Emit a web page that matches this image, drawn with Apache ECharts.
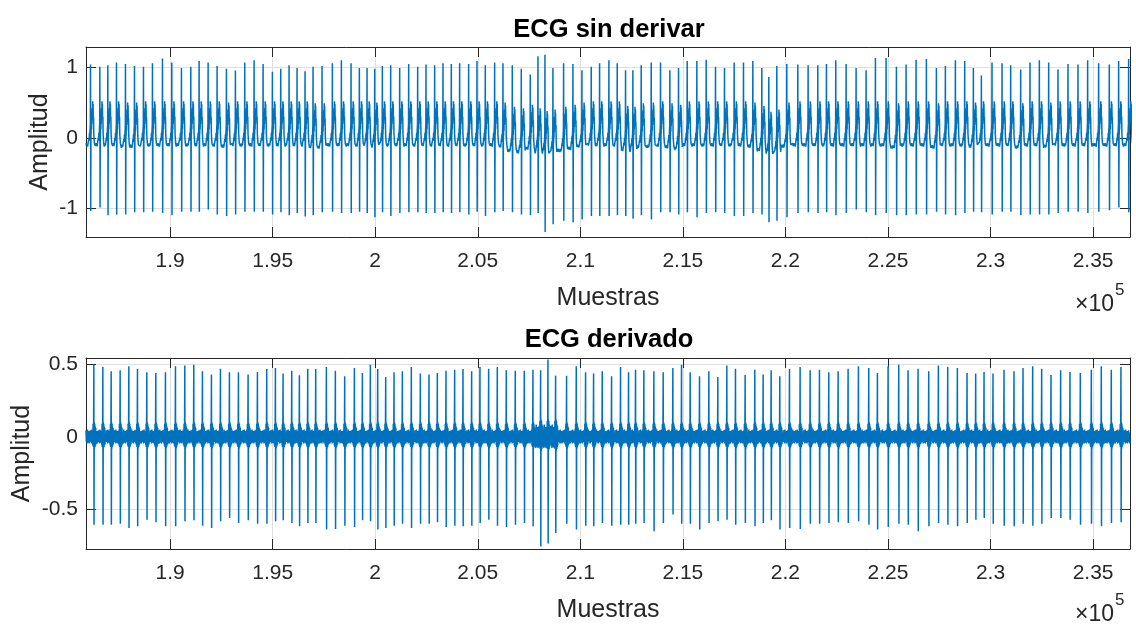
<!DOCTYPE html>
<html>
<head>
<meta charset="utf-8">
<title>ECG sin derivar / ECG derivado</title>
<script src="https://cdn.jsdelivr.net/npm/echarts@6/dist/echarts.min.js"></script>
<style>
  html, body { margin: 0; padding: 0; background: #fff; }
  #main { width: 1136px; height: 624px; }
</style>
</head>
<body>
<div id="main"></div>
<script>
// rango de muestras visible y marcas de los ejes
const xMin = 185900;
const xMax = 236800;
const xTicks = [190000, 195000, 200000, 205000, 210000, 215000, 220000, 225000, 230000, 235000];
const topYTicks = [-1, 0, 1];
const derYTicks = [-0.5, 0, 0.5];

// ECG sin derivar: posicion de cada latido (muestra), pico R, valle S y linea base
const topPos = [
  186120, 186575, 186964, 187387, 187825, 188264, 188702, 189141, 189628, 190083,
  190554, 191009, 191415, 191854, 192292, 192747, 193185, 193640, 194095, 194534,
  194988, 195395, 195801, 196190, 196580, 196970, 197409, 197912, 198351,
  198822, 199228, 199602, 199976, 200349, 200755, 201194, 201632, 202071, 202477,
  202899, 203305, 203711, 204117, 204556, 204962, 205368, 205823, 206229, 206684,
  207122, 207561, 207935, 208276, 208666, 209185, 209640, 210079, 210533, 210940, 211394,
  211800, 212206, 212563, 212969, 213457, 213911, 214366, 214789, 215211, 215682,
  216137, 216592, 217030, 217501, 217956, 218411, 218849, 219190, 219580, 220068,
  220604, 221107, 221578, 222000, 222455, 222959, 223446, 223933,
  224388, 224908, 225412, 225883, 226370, 226873, 227361, 227799, 228287, 228741,
  229164, 229554, 230073, 230561, 230983, 231470, 231925, 232380, 232835, 233289,
  233777, 234264, 234735, 235271, 235791, 236246, 236733
];
const topR = [
  1.04, 1.01, 1.03, 1.07, 1.05, 1.02, 1.01, 1.06, 1.125, 1.07, 0.99, 1.01, 1.09, 1.07, 1.02,
  0.98, 0.955, 1.07, 1.10, 1.05, 0.94, 0.98, 1.03, 0.99, 0.945, 1.01, 1.02, 1.06, 1.10,
  1.06, 0.99, 0.99, 0.98, 1.02, 1.03, 0.99, 1.05, 1.01, 1.04, 1.03, 1.06, 1.05, 1.06, 1.05,
  1.09, 1.03, 1.07, 1.06, 1.03, 0.98, 0.90, 1.16, 1.18, 0.99, 1.06, 1.05, 0.96, 1.01, 1.06, 1.10,
  1.06, 0.96, 0.96, 1.03, 1.07, 1.07, 0.96, 0.99, 1.09, 1.09, 1.11, 1.01, 0.99, 1.07,
  1.07, 1.09, 0.99, 0.865, 1.02, 1.05, 1.04, 1.03, 1.03, 1.05, 1.10, 1.05, 0.99, 0.96,
  1.135, 1.135, 1.01, 1.04, 1.11, 1.12, 0.99, 1.02, 1.10, 1.09, 0.99, 0.885, 1.07, 1.06,
  1.03, 0.97, 1.07, 1.10, 1.07, 0.97, 1.05, 1.04, 1.10, 1.06, 1.04, 1.09, 1.12
];
const topS = [
  -1.04, -0.99, -1.10, -1.09, -1.09, -1.06, -1.06, -1.05, -1.07, -1.10, -1.05, -1.05, -1.05, -1.02, -1.09,
  -1.11, -1.09, -1.05, -1.05, -1.05, -1.09, -1.06, -1.10, -1.07, -1.12, -1.10, -1.06, -1.05, -1.07,
  -1.07, -1.05, -1.07, -1.13, -1.06, -1.11, -1.07, -1.06, -1.06, -1.07, -1.07, -1.06, -1.07, -1.06, -1.09,
  -1.05, -1.11, -1.06, -1.04, -1.06, -1.09, -1.10, -1.07, -1.34, -1.23, -1.18, -1.20, -1.16, -1.11, -1.11, -1.11,
  -1.10, -1.11, -1.15, -1.10, -1.16, -1.06, -1.06, -1.09, -1.06, -1.13, -1.07, -1.06, -1.07, -1.11,
  -1.11, -1.07, -1.09, -1.20, -1.18, -1.13, -1.07, -1.06, -1.07, -1.06, -1.10, -1.07, -1.02, -1.06,
  -1.10, -1.07, -1.10, -1.10, -1.09, -1.09, -1.05, -1.09, -1.10, -1.07, -1.05, -1.06, -1.09, -1.05,
  -1.05, -1.10, -1.09, -1.09, -1.09, -1.07, -1.05, -1.05, -1.07, -1.05, -1.03, -0.99, -1.06
];
const topBase = [
  -0.1, -0.1, -0.1, -0.1, -0.12, -0.12, -0.1, -0.1, -0.1, -0.1,
  -0.1, -0.1, -0.1, -0.1, -0.1, -0.12, -0.1, -0.1, -0.1, -0.1,
  -0.1, -0.1, -0.1, -0.1, -0.1, -0.13, -0.13, -0.1, -0.1, -0.1,
  -0.1, -0.1, -0.12, -0.1, -0.1, -0.1, -0.1, -0.1, -0.1, -0.1,
  -0.1, -0.1, -0.1, -0.1, -0.1, -0.1, -0.1, -0.12, -0.18, -0.2,
  -0.15, -0.2, -0.24, -0.22, -0.18, -0.15, -0.12, -0.1, -0.1, -0.1,
  -0.1, -0.17, -0.18, -0.13, -0.12, -0.1, -0.13, -0.15, -0.1, -0.1,
  -0.1, -0.1, -0.1, -0.1, -0.1, -0.12, -0.17, -0.25, -0.22, -0.12,
  -0.1, -0.1, -0.1, -0.1, -0.1, -0.1, -0.1, -0.1, -0.1, -0.1,
  -0.13, -0.1, -0.1, -0.1, -0.13, -0.1, -0.1, -0.1, -0.12, -0.1,
  -0.1, -0.1, -0.1, -0.13, -0.1, -0.1, -0.12, -0.1, -0.1, -0.1,
  -0.1, -0.1, -0.1, -0.1, -0.1
];

// ECG derivado: posicion de cada latido, pico positivo y pico negativo
const derPos = [
  186282, 186721, 187127, 187565, 187988, 188410, 188865, 189303, 189774, 190262,
  190717, 191155, 191577, 192016, 192455, 192893, 193332, 193803, 194258, 194712,
  195135, 195508, 195931, 196304, 196710, 197100, 197620, 198058, 198513,
  198985, 199375, 199764, 200122, 200512, 200918, 201324, 201762, 202201, 202623,
  203029, 203452, 203874, 204280, 204702, 205108, 205531, 205953, 206392, 206830,
  207269, 207691, 208065, 208422, 208795, 209331, 209803, 210257, 210647, 211069,
  211524, 211962, 212352, 212693, 213099, 213587, 214041, 214512, 214935, 215357,
  215812, 216267, 216705, 217144, 217566, 218037, 218508, 218914, 219304, 219726,
  220198, 220717, 221205, 221659, 222114, 222569, 223056, 223560, 224063,
  224486, 225006, 225525, 225980, 226467, 226987, 227458, 227913, 228384, 228855,
  229277, 229684, 230122, 230658, 231145, 231584, 232055, 232494, 232948, 233419,
  233874, 234378, 234914, 235401, 235888, 236359
];
const derR = [
  0.495, 0.479, 0.45, 0.457, 0.484, 0.466, 0.443, 0.438, 0.443, 0.484, 0.49, 0.495, 0.45, 0.427, 0.468,
  0.443, 0.443, 0.427, 0.445, 0.466, 0.472, 0.434, 0.454, 0.422, 0.468, 0.466, 0.479, 0.454, 0.415,
  0.472, 0.438, 0.495, 0.466, 0.411, 0.443, 0.45, 0.479, 0.434, 0.427, 0.438, 0.454, 0.461, 0.466, 0.45,
  0.479, 0.468, 0.479, 0.457, 0.454, 0.454, 0.461, 0.457, 0.53, 0.42, 0.42, 0.484, 0.443, 0.434, 0.45,
  0.415, 0.479, 0.443, 0.461, 0.457, 0.45, 0.443, 0.472, 0.495, 0.443, 0.415, 0.45, 0.411, 0.49, 0.468,
  0.425, 0.461, 0.427, 0.457, 0.415, 0.466, 0.479, 0.457, 0.461, 0.443, 0.45, 0.468, 0.484, 0.472,
  0.438, 0.484, 0.495, 0.457, 0.468, 0.45, 0.49, 0.479, 0.472, 0.438, 0.434, 0.445, 0.434, 0.461,
  0.45, 0.472, 0.484, 0.468, 0.425, 0.457, 0.445, 0.438, 0.461, 0.484, 0.461, 0.479
];
const derS = [
  -0.603, -0.603, -0.603, -0.596, -0.626, -0.614, -0.569, -0.587, -0.614, -0.614, -0.58, -0.573, -0.61, -0.626, -0.58,
  -0.557, -0.592, -0.573, -0.596, -0.596, -0.58, -0.573, -0.592, -0.614, -0.592, -0.592, -0.637, -0.633, -0.61,
  -0.619, -0.573, -0.58, -0.637, -0.626, -0.61, -0.596, -0.626, -0.596, -0.596, -0.587, -0.619, -0.61, -0.614, -0.61,
  -0.592, -0.569, -0.61, -0.619, -0.603, -0.592, -0.614, -0.752, -0.733, -0.66, -0.596, -0.637, -0.61, -0.614, -0.592,
  -0.61, -0.603, -0.603, -0.596, -0.592, -0.649, -0.592, -0.534, -0.596, -0.596, -0.637, -0.592, -0.58, -0.569, -0.603,
  -0.592, -0.614, -0.592, -0.573, -0.637, -0.626, -0.633, -0.596, -0.596, -0.592, -0.587, -0.592, -0.58, -0.603,
  -0.637, -0.619, -0.596, -0.603, -0.649, -0.614, -0.592, -0.603, -0.614, -0.592, -0.569, -0.557, -0.596, -0.61,
  -0.614, -0.596, -0.61, -0.596, -0.557, -0.557, -0.569, -0.603, -0.596, -0.614, -0.592, -0.587
];
// tramo donde el ECG derivado tiene mas ruido: [desde, hasta, factor]
const derLoud = [207700, 208900, 1.7];

// forma de un latido y rizado de la linea base (desplazamientos en muestras, valor sobre la base)
const topPre = [[-110, 0.0], [-95, 0.04], [-80, 0.1], [-65, 0.06], [-50, 0.17], [-35, 0.12],
                [-20, 0.22], [-8, 0.3]];
const topPost = [[22, 0.26], [30, 0.15], [40, 0.38], [50, 0.22], [60, 0.45], [70, 0.3],
                 [80, 0.52], [92, 0.38], [105, 0.62], [115, 0.45], [125, 0.58], [135, 0.35],
                 [148, 0.4], [160, 0.15], [175, 0.08], [190, 0.02]];
const topRipple = [0.025, -0.02, 0.015, -0.025, 0.022, -0.012, 0.02, -0.018];
const derPre = [[-60, 0.05], [-48, -0.06], [-36, 0.09], [-24, -0.07], [-12, 0.06]];
const derPost = [[20, 0.1], [32, -0.08], [44, 0.09], [56, -0.07], [68, 0.07], [80, -0.06], [92, 0.06], [104, -0.05]];
const derRipple = [0.045, -0.035, 0.03, -0.045, 0.05, -0.03, 0.035, -0.04, 0.04, -0.045, 0.025, -0.035];

function buildTrace(pos, hi, lo, base, pre, post, ripple, step, loud) {
  const pts = [];
  let k = 0;
  let cursor = xMin;
  const gain = x => (loud && x > loud[0] && x < loud[1] ? loud[2] : 1);
  const fill = (to, b) => {
    while (cursor < to) {
      pts.push([cursor, b + ripple[k++ % ripple.length] * gain(cursor)]);
      cursor += step;
    }
  };
  pos.forEach((p, i) => {
    const b = base ? base[i] : 0;
    const g = Math.min(gain(p), 1.2);
    fill(p + pre[0][0], b);
    pre.forEach(([dx, dy]) => pts.push([p + dx, b + dy * g]));
    pts.push([p, hi[i]], [p + 10, lo[i]]);
    post.forEach(([dx, dy]) => pts.push([p + dx, b + dy * g]));
    cursor = p + post[post.length - 1][0] + step;
  });
  fill(xMax, base ? base[base.length - 1] : 0);
  return pts;
}

const topData = buildTrace(topPos, topR, topS, topBase, topPre, topPost, topRipple, 25, null);
const derData = buildTrace(derPos, derR, derS, null, derPre, derPost, derRipple, 18, derLoud);

const ink = '#262626';
const font = "'Liberation Sans', Arial, Helvetica, sans-serif";

function xAxisFor(grid, side) {
  const main = side === 'bottom';
  return {
    type: 'value', gridIndex: grid, position: side, min: xMin, max: xMax,
    name: main ? 'Muestras' : '', nameLocation: 'middle', nameGap: 49, nameMoveOverlap: false,
    nameTextStyle: { color: ink, fontSize: 25, fontFamily: font },
    axisLine: { show: true, onZero: false, lineStyle: { color: ink, width: 1 } },
    axisTick: { show: true, inside: true, length: 10, customValues: xTicks, lineStyle: { color: ink } },
    axisLabel: {
      show: main, customValues: xTicks, margin: 14, color: ink, fontSize: 21, fontFamily: font,
      formatter: v => String(parseFloat((v / 1e5).toFixed(2)))
    },
    splitLine: { show: main, lineStyle: { color: '#dfdfdf', width: 1 } }
  };
}

function yAxisFor(grid, side, lo, hi, ticks, gap) {
  const main = side === 'left';
  return {
    type: 'value', gridIndex: grid, position: side, min: lo, max: hi,
    name: main ? 'Amplitud' : '', nameLocation: 'middle', nameGap: gap, nameRotate: 90,
    nameMoveOverlap: false,
    nameTextStyle: { color: ink, fontSize: 25, fontFamily: font },
    axisLine: { show: true, onZero: false, lineStyle: { color: ink, width: 1 } },
    axisTick: { show: true, inside: true, length: 10, customValues: ticks, lineStyle: { color: ink } },
    axisLabel: { show: main, customValues: ticks, margin: 8, color: ink, fontSize: 21, fontFamily: font },
    splitLine: { show: main, lineStyle: { color: '#dfdfdf', width: 1 } }
  };
}

function textEl(x, y, text, size, bold, color, align) {
  return {
    type: 'text', x: x, y: y, silent: true,
    style: {
      text: text, fill: color, font: (bold ? 'bold ' : '') + size + 'px ' + font,
      align: align, verticalAlign: 'middle', textAlign: align, textVerticalAlign: 'middle'
    }
  };
}

const chart = echarts.init(document.getElementById('main'), null, { renderer: 'canvas' });
chart.setOption({
  animation: false,
  backgroundColor: '#ffffff',
  grid: [
    { left: 86, top: 47, width: 1044, height: 190 },
    { left: 86, top: 358, width: 1044, height: 191 }
  ],
  xAxis: [xAxisFor(0, 'bottom'), xAxisFor(0, 'top'), xAxisFor(1, 'bottom'), xAxisFor(1, 'top')],
  yAxis: [
    yAxisFor(0, 'left', -1.41, 1.29, topYTicks, 33), yAxisFor(0, 'right', -1.41, 1.29, topYTicks, 33),
    yAxisFor(1, 'left', -0.77, 0.541, derYTicks, 51), yAxisFor(1, 'right', -0.77, 0.541, derYTicks, 51)
  ],
  graphic: [
    textEl(609, 30, 'ECG sin derivar', 25.5, true, '#000', 'center'),
    textEl(609, 340, 'ECG derivado', 25.5, true, '#000', 'center'),
    textEl(1075, 305, '×10', 23, false, ink, 'left'),
    textEl(1115, 290, '5', 17, false, ink, 'left'),
    textEl(1075, 615, '×10', 23, false, ink, 'left'),
    textEl(1115, 600, '5', 17, false, ink, 'left')
  ],
  series: [
    {
      name: 'ECG sin derivar', type: 'line', xAxisIndex: 0, yAxisIndex: 0,
      data: topData, symbol: 'none', showSymbol: false, silent: true, sampling: null,
      lineStyle: { color: '#0072bd', width: 1.5 }
    },
    {
      name: 'ECG derivado', type: 'line', xAxisIndex: 2, yAxisIndex: 2,
      data: derData, symbol: 'none', showSymbol: false, silent: true, sampling: null,
      lineStyle: { color: '#0072bd', width: 1.5 }
    }
  ]
});
</script>
</body>
</html>
